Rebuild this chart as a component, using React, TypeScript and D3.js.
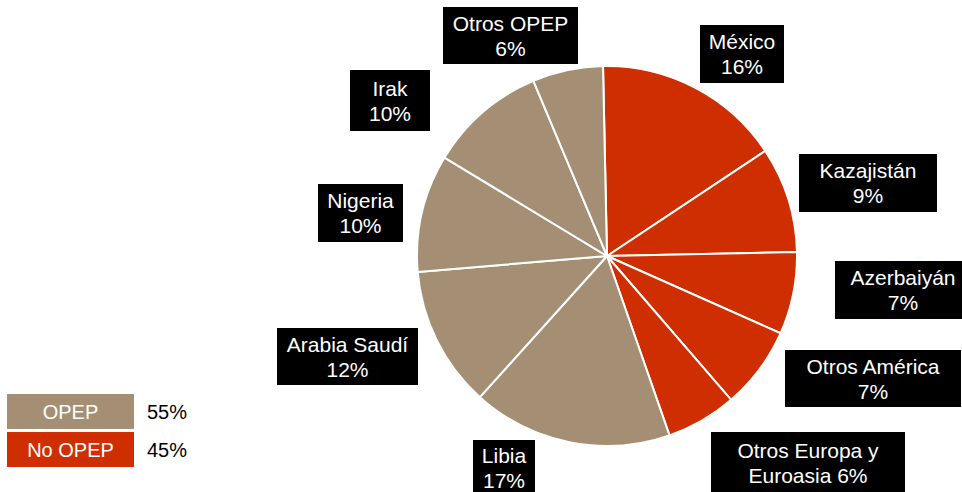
import React, { useEffect, useRef } from "react";
import * as d3 from "d3";

// slices, clockwise from 12 o'clock
const categories = [
  "México",
  "Kazajistán",
  "Azerbaiyán",
  "Otros América",
  "Otros Europa y Euroasia",
  "Libia",
  "Arabia Saudí",
  "Nigeria",
  "Irak",
  "Otros OPEP",
];
const values = [16, 9, 7, 7, 6, 17, 12, 10, 10, 6];
const groups = ["No OPEP", "No OPEP", "No OPEP", "No OPEP", "No OPEP", "OPEP", "OPEP", "OPEP", "OPEP", "OPEP"];
// label text lines (line breaks as in the original)
const labelLines = [
  ["México", "16%"],
  ["Kazajistán", "9%"],
  ["Azerbaiyán", "7%"],
  ["Otros América", "7%"],
  ["Otros Europa y", "Euroasia 6%"],
  ["Libia", "17%"],
  ["Arabia Saudí", "12%"],
  ["Nigeria", "10%"],
  ["Irak", "10%"],
  ["Otros OPEP", "6%"],
];
const legendGroups = ["OPEP", "No OPEP"];
const legendShares = ["55%", "45%"];

// label box layout: x, y, w, h
const LABEL_BOXES = [
  [700, 25, 84, 58],
  [799, 154, 138, 58],
  [835, 261, 136, 58],
  [785, 350, 176, 57],
  [711, 432, 194, 62],
  [473, 440, 62, 56],
  [277, 328, 141, 57],
  [318, 184, 85, 58],
  [350, 70, 80, 61],
  [443, 7, 135, 57],
];

const W = 962;
const H = 492;
const FONT = "'Liberation Sans', Arial, sans-serif";

export default function App() {
  const ref = useRef<SVGSVGElement>(null);

  useEffect(() => {
    const svg = d3.select(ref.current);
    svg.selectAll("*").remove();

    const color = d3.scaleOrdinal<string, string>().domain(legendGroups).range(["#A58F74", "#CF2E00"]);

    const cx = 607;
    const cy = 256;
    const radius = 190;
    const offset = -0.021; // first slice starts a bit left of top

    const pie = d3
      .pie<number>()
      .sort(null)
      .startAngle(offset)
      .endAngle(2 * Math.PI + offset);
    const arcs = pie(values);
    const arc = d3.arc<d3.PieArcDatum<number>>().innerRadius(0).outerRadius(radius);

    const g = svg.append("g").attr("transform", `translate(${cx},${cy})`);
    g.selectAll("path")
      .data(arcs)
      .enter()
      .append("path")
      .attr("d", arc)
      .attr("fill", (d, i) => color(groups[i]))
      .attr("stroke", "#fff")
      .attr("stroke-width", 2)
      .attr("stroke-linejoin", "round");

    // labels
    const lab = svg.selectAll("g.lab").data(categories).enter().append("g").attr("class", "lab");
    lab
      .append("rect")
      .attr("x", (d, i) => LABEL_BOXES[i][0])
      .attr("y", (d, i) => LABEL_BOXES[i][1])
      .attr("width", (d, i) => LABEL_BOXES[i][2])
      .attr("height", (d, i) => LABEL_BOXES[i][3])
      .attr("fill", "#000");
    lab.each(function (d, i) {
      const [x, y, w, h] = LABEL_BOXES[i];
      const mx = x + w / 2;
      const my = y + h / 2;
      labelLines[i].forEach((t, k) => {
        d3.select(this)
          .append("text")
          .attr("x", mx)
          .attr("y", my + (k - 0.5) * 25)
          .attr("dy", "0.36em")
          .attr("text-anchor", "middle")
          .attr("fill", "#fff")
          .style("font-family", FONT)
          .style("font-size", "21px")
          .text(t);
      });
    });

    // legend
    const band = d3.scaleBand<string>().domain(legendGroups).range([394, 467]).paddingInner(0.08);
    const leg = svg.selectAll("g.leg").data(legendGroups).enter().append("g").attr("class", "leg");
    leg
      .append("rect")
      .attr("x", 7)
      .attr("y", (d) => band(d)!)
      .attr("width", 127)
      .attr("height", band.bandwidth())
      .attr("fill", (d) => color(d));
    leg
      .append("text")
      .attr("x", 70.5)
      .attr("y", (d) => band(d)! + band.bandwidth() / 2)
      .attr("dy", "0.36em")
      .attr("text-anchor", "middle")
      .attr("fill", "#fff")
      .style("font-family", FONT)
      .style("font-size", "20px")
      .text((d) => d);
    leg
      .append("text")
      .attr("x", 147)
      .attr("y", (d) => band(d)! + band.bandwidth() / 2)
      .attr("dy", "0.36em")
      .attr("fill", "#000")
      .style("font-family", FONT)
      .style("font-size", "20px")
      .text((d, i) => legendShares[i]);
  }, []);

  return (
    <svg
      ref={ref}
      width={W}
      height={H}
      style={{ position: "absolute", left: 0, top: 0, background: "#fff" }}
    />
  );
}
